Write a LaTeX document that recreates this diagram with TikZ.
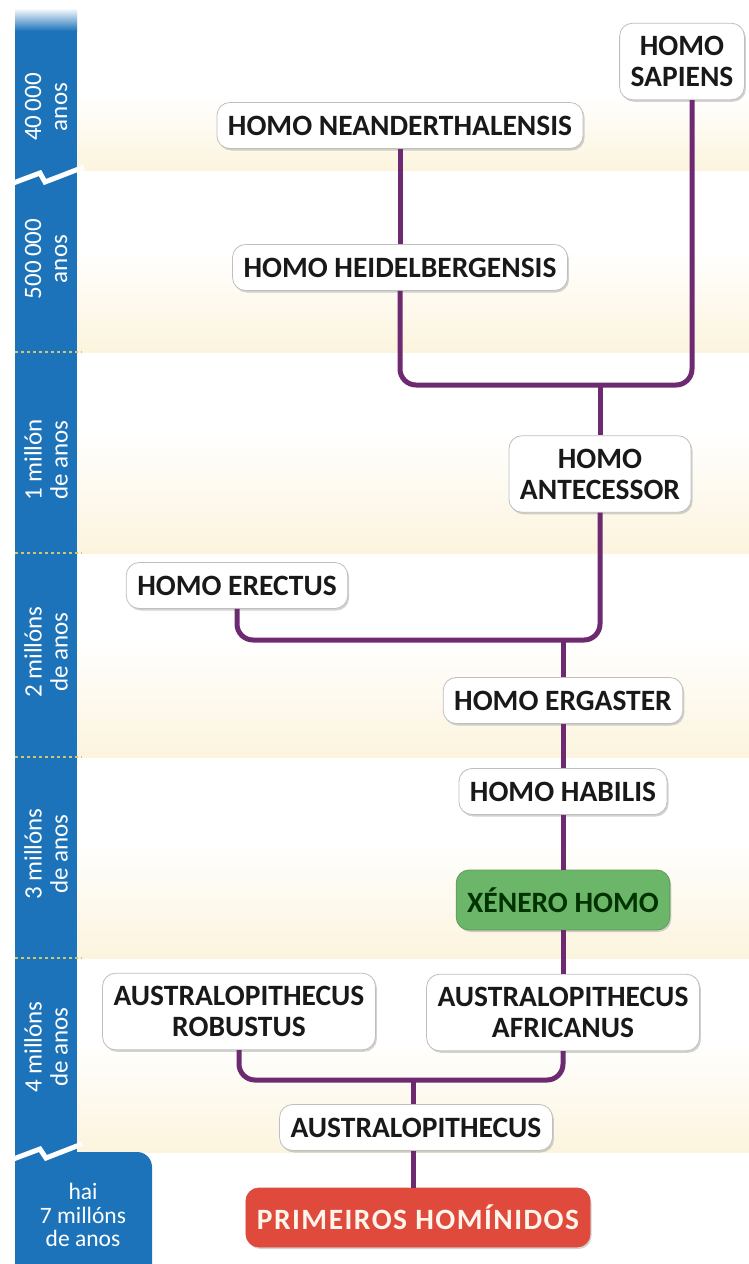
\documentclass[tikz,border=0pt]{standalone}
\usepackage{fontspec}
\setmainfont{Carlito}
\usetikzlibrary{shadows}
\definecolor{barblue}{RGB}{28,115,185}
\definecolor{cream}{RGB}{252,244,222}
\definecolor{lin}{RGB}{110,42,112}
\definecolor{grn}{RGB}{108,182,106}
\definecolor{redb}{RGB}{224,74,60}
\definecolor{sepc}{RGB}{205,200,110}
\definecolor{ink}{RGB}{25,25,25}
\begin{document}
\begin{tikzpicture}[x=1pt,y=-1pt,
  box/.style={draw=black!25, line width=0.8pt, fill=white, rounded corners=13pt,
    inner xsep=11pt, inner ysep=13pt, align=center, text=ink,
    font=\fontsize{29.5}{31}\selectfont\bfseries, minimum height=46pt,
    drop shadow={shadow xshift=1.5pt, shadow yshift=-2pt, opacity=0.35}},
  conn/.style={draw=lin, line width=5pt, rounded corners=16pt},
  lab/.style={text=white, align=center, font=\fontsize{25}{26}\selectfont},
  sepline/.style={draw=sepc, line width=2pt, dash pattern=on 3pt off 3pt},
]
\useasboundingbox (0,0) rectangle (749,1264);
\fill[white] (0,0) rectangle (749,1264);
% background bands
\foreach \a/\b in {95/170, 250/352, 430/553, 640/757, 840/958, 1040/1152}
  \shade[top color=white, bottom color=cream] (77,\a) rectangle (749,\b);
% time bar
\fill[barblue] (15,30) rectangle (77,1160);
\shade[top color=white, bottom color=barblue] (15,8) rectangle (77,31);
\fill[barblue] (15,1264) -- (15,1152) -- (137,1152) arc[start angle=-90, end angle=0, radius=15] -- (152,1264) -- cycle;
\draw[white, line width=5pt] (8,185) -- (40,173) -- (45,182) -- (84,167);
\draw[white, line width=5pt] (8,1161) -- (40,1149) -- (46,1158) -- (82,1144);
\foreach \y in {352,553,757,958}
  \draw[sepline] (15,\y) -- (82,\y);
% time labels
\node[lab, rotate=90] (t1) at (46,107) {40\,000\\anos};
\node[lab, rotate=90] (t2) at (46,259) {500\,000\\anos};
\node[lab, rotate=90] (t3) at (46,460) {1 millón\\de anos};
\node[lab, rotate=90] (t4) at (46,652) {2 millóns\\de anos};
\node[lab, rotate=90] (t5) at (46,854) {3 millóns\\de anos};
\node[lab, rotate=90] (t6) at (46,1047) {4 millóns\\de anos};
\node[lab, font=\fontsize{23.5}{23.5}\selectfont] (t7) at (83,1215) {hai\\7 millóns\\de anos};
% species
\node[box] (sap) at (682,61.5) {HOMO\\SAPIENS};
\node[box] (nea) at (400,125.5) {HOMO NEANDERTHALENSIS};
\node[box] (hei) at (400,267.5) {HOMO HEIDELBERGENSIS};
\node[box] (ant) at (600,474) {HOMO\\ANTECESSOR};
\node[box] (ere) at (237,585.5) {HOMO ERECTUS};
\node[box] (erg) at (563,700.5) {HOMO ERGASTER};
\node[box] (hab) at (563,791.5) {HOMO HABILIS};
\node[box, fill=grn, draw=grn!85!black, minimum height=60pt, text=black!80!green] (xen) at (563,900) {XÉNERO HOMO};
\node[box] (afr) at (563,1012.5) {AUSTRALOPITHECUS\\AFRICANUS};
\node[box] (rob) at (239,1011.5) {AUSTRALOPITHECUS\\ROBUSTUS};
\node[box] (aus) at (416,1127.5) {AUSTRALOPITHECUS};
\node[box, fill=redb, draw=redb, minimum height=59pt, text=white!92!orange,
  font=\fontsize{29.5}{31}\selectfont\bfseries\addfontfeature{LetterSpace=5}] (pri) at (418,1217.5) {PRIMEIROS HOMÍNIDOS};
% connectors
\coordinate (sx) at (692,100);
\coordinate (j1) at (600,385);
\coordinate (j2) at (563,640);
\coordinate (j3) at (413,1080);
\draw[conn] (nea.south) -- (hei.north);
\draw[conn] (hei.south) |- (sx |- j1) -- (sx);
\draw[conn] (j1) -- (ant.north);
\draw[conn] (ant.south) |- (ere.south |- j2) -- (ere.south);
\draw[conn] (j2) -- (erg.north);
\draw[conn] (erg.south) -- (hab.north);
\draw[conn] (hab.south) -- (xen.north);
\draw[conn] (xen.south) -- (afr.north);
\draw[conn] (afr.south) |- (rob.south |- j3) -- (rob.south);
\draw[conn] (j3) -- (j3 |- aus.north);
\draw[conn] (j3 |- aus.south) -- (j3 |- pri.north);
\end{tikzpicture}
\end{document}
